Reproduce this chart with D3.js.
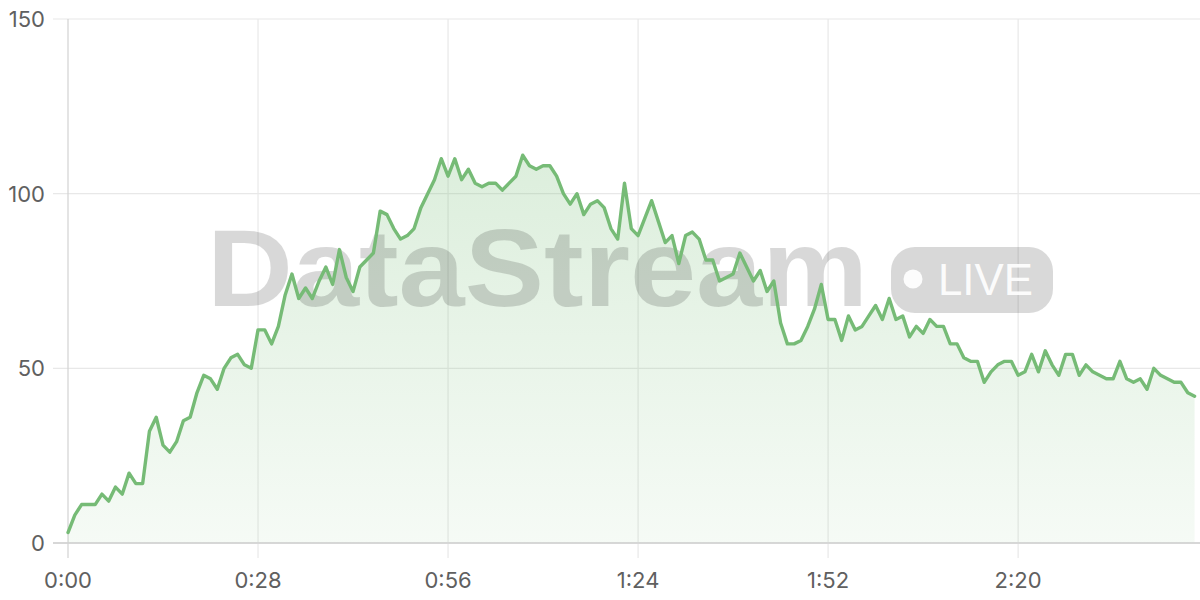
<!DOCTYPE html>
<html>
<head>
<meta charset="utf-8">
<script src="https://cdn.jsdelivr.net/npm/d3@7"></script>
<style>
  html, body { margin: 0; padding: 0; background: #fff; }
  svg { display: block; }
  text { font-family: Inter, "Helvetica Neue", Helvetica, "Liberation Sans", Arial, sans-serif; }
  text.wm { font-family: "Helvetica Neue", Helvetica, "Liberation Sans", Arial, sans-serif; }
</style>
</head>
<body>
<svg id="chart" width="1200" height="600"></svg>
<script>
// ---- data (seconds since start, value) ----
const values = [
  3, 8, 11, 11, 11, 14, 12, 16, 14, 20,
  17, 17, 32, 36, 28, 26, 29, 35, 36, 43,
  48, 47, 44, 50, 53, 54, 51, 50, 61, 61,
  57, 62, 71, 77, 70, 73, 70, 75, 79, 74,
  84, 76, 72, 79, 81, 83, 95, 94, 90, 87,
  88, 90, 96, 100, 104, 110, 105, 110, 104, 107,
  103, 102, 103, 103, 101, 103, 105, 111, 108, 107,
  108, 108, 105, 100, 97, 100, 94, 97, 98, 96,
  90, 87, 103, 90, 88, 93, 98, 92, 86, 88,
  80, 88, 89, 87, 81, 81, 75, 76, 77, 83,
  79, 75, 78, 72, 75, 63, 57, 57, 58, 62,
  67, 74, 64, 64, 58, 65, 61, 62, 65, 68,
  64, 70, 64, 65, 59, 62, 60, 64, 62, 62,
  57, 57, 53, 52, 52, 46, 49, 51, 52, 52,
  48, 49, 54, 49, 55, 51, 48, 54, 54, 48,
  51, 49, 48, 47, 47, 52, 47, 46, 47, 44,
  50, 48, 47, 46, 46, 43, 42
];
const seconds = values.map((v, i) => i);
const xTickValues = [0, 28, 56, 84, 112, 140];
const xTickLabels = ["0:00", "0:28", "0:56", "1:24", "1:52", "2:20"];
const yTickValues = [0, 50, 100, 150];
const watermarkText = "DataStream";
const badgeText = "LIVE";

// ---- layout ----
const svg = d3.select("#chart");
const mLeft = 68, mRight = 1200, mTop = 19, mBottom = 543;
const x = d3.scaleLinear().domain([0, 166.8]).range([mLeft, mRight]);
const y = d3.scaleLinear().domain([0, 150]).range([mBottom, mTop]);

const data = seconds.map((s, i) => ({ s, v: values[i] }));

// gradient
const defs = svg.append("defs");
const grad = defs.append("linearGradient")
  .attr("id", "areaGrad")
  .attr("gradientUnits", "userSpaceOnUse")
  .attr("x1", 0).attr("x2", 0).attr("y1", y(112)).attr("y2", mBottom);
grad.append("stop").attr("offset", "0%").attr("stop-color", "rgb(120,190,120)").attr("stop-opacity", 0.26);
grad.append("stop").attr("offset", "100%").attr("stop-color", "rgb(120,190,120)").attr("stop-opacity", 0.07);

// grid: horizontal
svg.append("g").selectAll("line").data(yTickValues).enter().append("line")
  .attr("x1", mLeft - 15).attr("x2", mRight)
  .attr("y1", d => y(d)).attr("y2", d => y(d))
  .attr("stroke", d => d === 0 ? "#d2d2d2" : "#e8e8e8").attr("stroke-width", 1.2);

// grid: vertical
svg.append("g").selectAll("line").data(xTickValues).enter().append("line")
  .attr("x1", d => x(d)).attr("x2", d => x(d))
  .attr("y1", mTop).attr("y2", mBottom + 15)
  .attr("stroke", (d, i) => i === 0 ? "#d2d2d2" : "#e8e8e8").attr("stroke-width", 1.2);

// area
const area = d3.area().x(d => x(d.s)).y0(y(0)).y1(d => y(d.v));
svg.append("path").datum(data).attr("d", area).attr("fill", "url(#areaGrad)");

// bottom axis line on top of area
svg.append("line").attr("x1", mLeft - 15).attr("x2", mRight).attr("y1", y(0)).attr("y2", y(0))
  .attr("stroke", "#d2d2d2").attr("stroke-width", 1.5);

// axis labels
svg.append("g").selectAll("text").data(yTickValues).enter().append("text")
  .attr("x", 45).attr("y", d => y(d)).attr("dy", "0.36em")
  .attr("text-anchor", "end").attr("font-size", 22).attr("fill", "#606060")
  .text(d => d);
svg.append("g").selectAll("text").data(xTickValues).enter().append("text")
  .attr("x", d => x(d)).attr("y", 588)
  .attr("text-anchor", "middle").attr("font-size", 22).attr("fill", "#606060")
  .text((d, i) => xTickLabels[i]);

// watermark
const wm = svg.append("g").attr("opacity", 0.15);
wm.append("text").attr("class", "wm").attr("x", 207).attr("y", 306)
  .attr("font-size", 110).attr("font-weight", "bold").attr("fill", "#000")
  .attr("textLength", 661).attr("lengthAdjust", "spacingAndGlyphs")
  .text(watermarkText);
wm.append("rect").attr("x", 891).attr("y", 247).attr("width", 162).attr("height", 66)
  .attr("rx", 24).attr("fill", "#000");
svg.append("circle").attr("cx", 913).attr("cy", 279).attr("r", 9.5).attr("fill", "#fff").attr("opacity", 0.92);
svg.append("text").attr("class", "wm").attr("x", 938).attr("y", 295)
  .attr("font-size", 44).attr("font-weight", 500).attr("fill", "#fff").attr("opacity", 0.92)
  .attr("textLength", 95).attr("lengthAdjust", "spacingAndGlyphs")
  .text(badgeText);

// line
const line = d3.line().x(d => x(d.s)).y(d => y(d.v));
svg.append("path").datum(data).attr("d", line)
  .attr("fill", "none").attr("stroke", "#76bb76").attr("stroke-width", 3.4)
  .attr("stroke-linejoin", "round").attr("stroke-linecap", "round");
</script>
</body>
</html>
